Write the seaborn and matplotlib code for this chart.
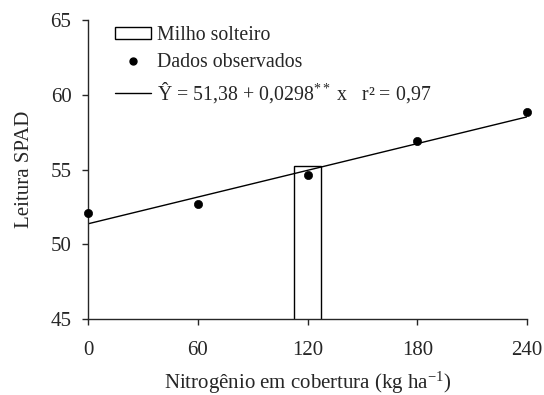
import numpy as np
import pandas as pd
import matplotlib
matplotlib.use("Agg")
import matplotlib.pyplot as plt
import seaborn as sns
from matplotlib.patches import Patch
from matplotlib.lines import Line2D

sns.set_style("ticks")
plt.rcParams["font.family"] = ["Liberation Serif", "DejaVu Serif"]
plt.rcParams["mathtext.fontset"] = "custom"
plt.rcParams["mathtext.rm"] = "Liberation Serif"
plt.rcParams["mathtext.it"] = "Liberation Serif:italic"

# observed data
doses = [0, 60, 120, 180, 240]
spad = [52.07, 52.69, 54.65, 56.9, 58.85]

# single maize reference bar
milho_x = [120]
milho_y = [55.25]

# regression
b0 = 51.38
b1 = 0.0298

df = pd.DataFrame({"dose": doses, "spad": spad})
fit = pd.DataFrame({"dose": [0, 240]})
fit["spad"] = b0 + b1 * fit["dose"]

fig = plt.figure(figsize=(5.44, 3.95), dpi=100)
ax = fig.add_axes([0.162, 0.192, 0.807, 0.757])

ax.bar(milho_x, milho_y, width=15, facecolor="white", edgecolor="black",
       linewidth=1.0, zorder=1)
sns.lineplot(data=fit, x="dose", y="spad", color="black", linewidth=1.0,
             ax=ax, zorder=2)
sns.scatterplot(data=df, x="dose", y="spad", color="black", s=35,
                edgecolor="black", ax=ax, zorder=3, clip_on=False)

ax.set_xlim(0, 240)
ax.set_ylim(45, 65)
ax.set_xticks(doses)
ax.set_yticks([45, 50, 55, 60, 65])
ax.tick_params(axis="x", labelsize=15, direction="out", length=4, width=1, pad=12)
ax.tick_params(axis="y", labelsize=15, direction="out", length=4, width=1, pad=8)
ax.set_xlabel("Nitrogênio em cobertura (kg ha$^{-1}$)", fontsize=15, labelpad=7)
ax.set_ylabel("Leitura SPAD", fontsize=15, labelpad=12)
sns.despine(ax=ax)
for s in ["left", "bottom"]:
    ax.spines[s].set_linewidth(1)

handles = [
    Patch(facecolor="white", edgecolor="black", linewidth=1),
    Line2D([], [], marker="o", color="black", linestyle="", markersize=5),
    Line2D([], [], color="black", linewidth=1),
]
labels = [
    "Milho solteiro",
    "Dados observados",
    "Ŷ = 51,38 + 0,0298$^{**}$ x   r² = 0,97",
]
ax.legend(handles, labels, loc="upper left", bbox_to_anchor=(0.02, 1.04),
          frameon=False, fontsize=14.3, handlelength=1.8, handleheight=0.5,
          handletextpad=0.35, labelspacing=0.4)

fig.savefig("out.png", dpi=100)
